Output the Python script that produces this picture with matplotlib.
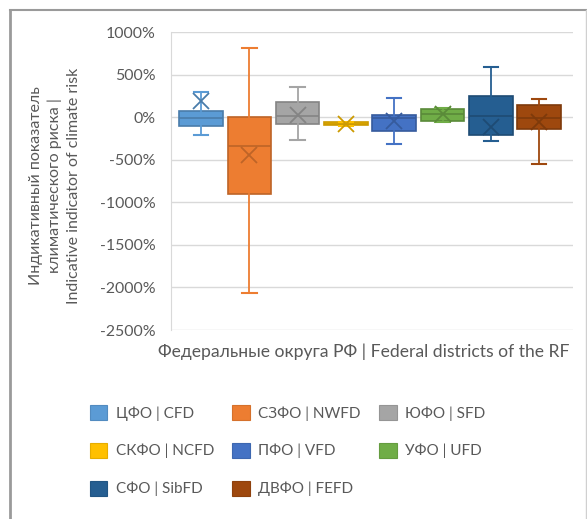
import matplotlib
matplotlib.use("Agg")
import matplotlib.pyplot as plt
from matplotlib.patches import Patch
from matplotlib.lines import Line2D

# districts (legend labels) and box statistics in percent
labels = ["ЦФО | CFD", "СЗФО | NWFD", "ЮФО | SFD", "СКФО | NCFD",
          "ПФО | VFD", "УФО | UFD", "СФО | SibFD", "ДВФО | FEFD"]
colors = ["#5B9BD5", "#ED7D31", "#A5A5A5", "#FFC000",
          "#4472C4", "#70AD47", "#255E91", "#9E480E"]
whis_low = [-215, -2060, -265, -100, -315, -55, -280, -545]
q1 = [-100, -900, -78, -92, -158, -45, -210, -145]
median = [-5, -335, 15, -78, -10, 35, 12, -15]
q3 = [75, 0, 180, -62, 25, 100, 247, 145]
whis_high = [300, 815, 356, -55, 220, 112, 585, 212]
means = [190, -440, 30, -75, -50, 35, -110, -58]

yticks = [1000, 500, 0, -500, -1000, -1500, -2000, -2500]

GRAY = "#595959"
FONT = "Lato"

plt.rcParams['font.family'] = [FONT, 'DejaVu Sans']

fig = plt.figure(figsize=(5.87, 5.19), dpi=100)
ax = fig.add_axes([171 / 587, 1 - 330 / 519, (573 - 171) / 587, (330 - 32) / 519])

stats = []
for i in range(len(labels)):
    stats.append({"whislo": whis_low[i], "q1": q1[i], "med": median[i],
                  "q3": q3[i], "whishi": whis_high[i], "mean": means[i],
                  "fliers": [], "label": labels[i]})

res = ax.bxp(stats, positions=range(len(labels)), widths=0.9, capwidths=0.3,
             patch_artist=True, showmeans=True, showfliers=False)


def darker(c, f=0.8):
    r, g, b = matplotlib.colors.to_rgb(c)
    return (r * f, g * f, b * f)


for i, c in enumerate(colors):
    d = darker(c)
    box = res["boxes"][i]
    box.set_facecolor(c)
    box.set_edgecolor(d)
    box.set_linewidth(1.2)
    res["medians"][i].set_color(d)
    res["medians"][i].set_linewidth(1.2)
    for w in res["whiskers"][2 * i:2 * i + 2]:
        w.set_color(c)
        w.set_linewidth(1.3)
    for cp in res["caps"][2 * i:2 * i + 2]:
        cp.set_color(c)
        cp.set_linewidth(1.5)
    m = res["means"][i]
    m.set_marker("x")
    m.set_markersize(12)
    m.set_markeredgewidth(1.3)
    m.set_markeredgecolor(d)
    m.set_markerfacecolor(d)
    m.set_zorder(4)

ax.set_xlim(-0.62, 7.70)
ax.set_ylim(-2500, 1000)
ax.set_yticks(yticks)
ax.set_yticklabels([f"{v}%" for v in yticks], color=GRAY, fontsize=11.4)
ax.set_xticks([])
ax.tick_params(axis="y", length=0, pad=11)
ax.yaxis.grid(True, color="#D9D9D9", linewidth=1)
ax.set_axisbelow(True)
for s in ["top", "right", "bottom"]:
    ax.spines[s].set_visible(False)
ax.spines["left"].set_color("#D9D9D9")

fig.text(364 / 587, 1 - 352 / 519, "Федеральные округа РФ | Federal districts of the RF",
         ha="center", va="center", color=GRAY, fontsize=12.6)
fig.text(55 / 587, 1 - 186 / 519,
         "Индикативный показатель\nклиматического риска |\nIndicative indicator of climate risk",
         ha="center", va="center", rotation=90, color=GRAY, fontsize=11.5,
         multialignment="center", linespacing=1.4)

# legend, ordered column by column
order = [0, 3, 6, 1, 4, 7, 2, 5]
handles = [Patch(facecolor=colors[i], edgecolor=darker(colors[i], 0.9), linewidth=0.8)
           for i in order]
fig.legend(handles, [labels[i] for i in order], ncol=3, frameon=False,
           loc="upper left", bbox_to_anchor=(76 / 587, 1 - 391 / 519),
           fontsize=11, labelcolor=GRAY, handlelength=1.15, handleheight=1.15,
           handletextpad=0.55, columnspacing=1.2, labelspacing=1.45)

# chart frame
fig.add_artist(Line2D([10 / 587, 10 / 587], [0, 1 - 10 / 519], color="#9A9A9A", linewidth=2,
                      transform=fig.transFigure))
fig.add_artist(Line2D([10 / 587, 586 / 587], [1 - 10 / 519, 1 - 10 / 519], color="#9A9A9A",
                      linewidth=1.5, transform=fig.transFigure))
fig.add_artist(Line2D([586 / 587, 586 / 587], [0, 1 - 10 / 519], color="#D0D0D0",
                      linewidth=1, transform=fig.transFigure))

fig.savefig("out.png", dpi=100)
